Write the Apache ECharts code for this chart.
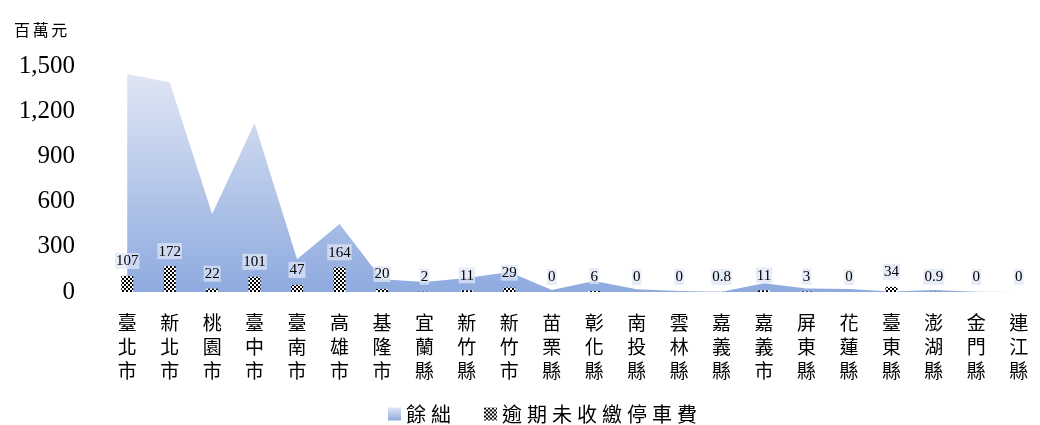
<!DOCTYPE html>
<html><head><meta charset="utf-8">
<script src="https://cdn.jsdelivr.net/npm/echarts@6/dist/echarts.min.js"></script>
<style>html,body{margin:0;padding:0;background:#fff}#c{width:1040px;height:425px}</style>
</head><body><div id="c"></div>
<script>
const categories = ['臺北市','新北市','桃園市','臺中市','臺南市','高雄市','基隆市','宜蘭縣','新竹縣','新竹市','苗栗縣','彰化縣','南投縣','雲林縣','嘉義縣','嘉義市','屏東縣','花蓮縣','臺東縣','澎湖縣','金門縣','連江縣'];
const surplus = [1447,1392,518,1120,217,451,85,66,93,133,13,73,18,7,2,58,24,20,3,13,1,0];
const overdue = [107,172,22,101,47,164,20,2,11,29,0,6,0,0,0.8,11,3,0,34,0.9,0,0];
const yTicks = {min:0, max:1500, interval:300};
const unitLabel = '百萬元';
const seriesNames = ['餘絀','逾期未收繳停車費'];

const cv = document.createElement('canvas');
cv.width = 4; cv.height = 4;
const cx = cv.getContext('2d');
cx.fillStyle = '#fff'; cx.fillRect(0,0,4,4);
cx.fillStyle = '#000'; cx.fillRect(0,0,2,2); cx.fillRect(2,2,2,2);
const checker = {image: cv, repeat: 'repeat'};

const grad = new echarts.graphic.LinearGradient(0,0,0,1,[{offset:0,color:'#dfe6f4'},{offset:1,color:'#8eaadf'}]);

const chart = echarts.init(document.getElementById('c'));
chart.setOption({
  animation:false,
  title:{text:unitLabel.split('').join('\u2006'),left:9,top:17,textStyle:{fontFamily:'Noto Sans CJK TC',fontSize:16,fontWeight:'normal',color:'#000'}},
  grid:{left:106,right:-10,top:66,bottom:133,containLabel:false},
  legend:{left:383,top:399,itemWidth:13,itemHeight:13,itemGap:33,
    formatter:n=>n.split('').join('\u2005'),
    textStyle:{fontFamily:'Noto Sans CJK TC',fontSize:20,color:'#000'},
    data:[{name:seriesNames[0],icon:'rect',itemStyle:{color:grad}},{name:seriesNames[1],icon:'rect',itemStyle:{color:checker}}]},
  xAxis:{type:'category',data:categories,boundaryGap:true,
    axisLine:{show:false},axisTick:{show:false},
    axisLabel:{interval:0,margin:19,color:'#000',fontFamily:'Noto Sans CJK TC',fontSize:19,lineHeight:24,
      formatter:v=>v.split('').join('\n')}},
  yAxis:{type:'value',min:yTicks.min,max:yTicks.max,interval:yTicks.interval,
    splitLine:{show:false},axisLine:{show:false},axisTick:{show:false},
    axisLabel:{margin:31,color:'#000',fontFamily:'Liberation Serif',fontSize:25,
      formatter:v=>v.toLocaleString('en-US')}},
  series:[
    {name:seriesNames[0],type:'line',data:surplus,symbol:'none',lineStyle:{width:0},
      areaStyle:{color:grad,opacity:1},z:1},
    {name:seriesNames[1],type:'bar',data:overdue,barWidth:12,itemStyle:{color:checker},z:3,
      label:{show:true,position:'top',distance:7,color:'#000',fontFamily:'Liberation Serif',fontSize:15,
        backgroundColor:'rgba(222,229,245,0.75)',padding:[1,1,0,1]}}
  ]
});
</script></body></html>
